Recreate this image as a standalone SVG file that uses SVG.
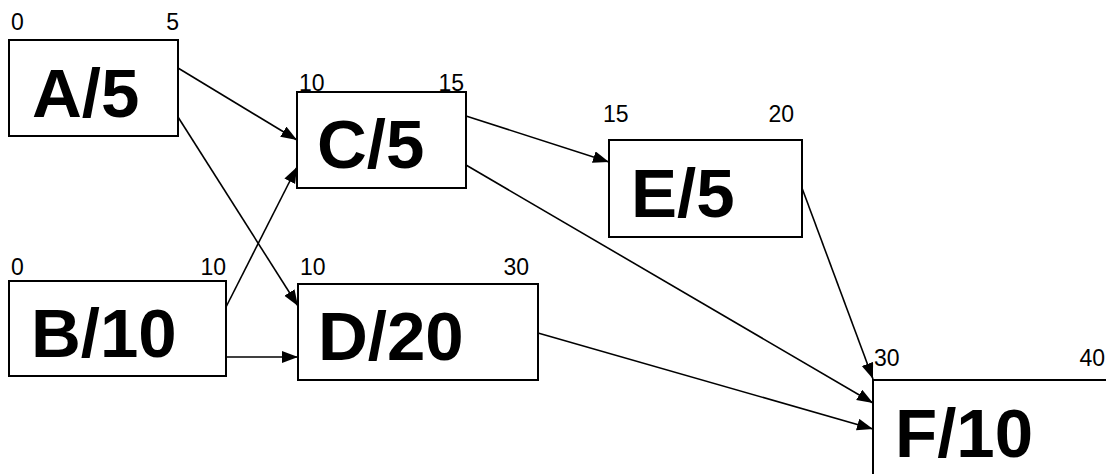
<svg xmlns="http://www.w3.org/2000/svg" width="1106" height="474" viewBox="0 0 1106 474">
<style>
.box{fill:#fff;stroke:#000;stroke-width:2}
.big{font-family:"Liberation Sans",Arial,sans-serif;font-weight:bold;font-size:69px;fill:#000}
.sm{font-family:"Liberation Sans",Arial,sans-serif;font-size:23px;fill:#000}
.e{text-anchor:end}
.ln{stroke:#000;stroke-width:1.6;fill:none;marker-end:url(#ah)}
</style>
<defs>
<marker id="ah" markerUnits="userSpaceOnUse" markerWidth="18" markerHeight="14" refX="16" refY="6" orient="auto">
<path d="M0,0 L16,6 L0,12 z" fill="#000"/>
</marker>
</defs>
<rect width="1106" height="474" fill="#fff"/>
<g id="nodeA">
<rect class="box" x="9" y="40" width="169" height="96"/>
<text class="sm" x="11" y="30">0</text>
<text class="sm e" x="179" y="30">5</text>
<text class="big" x="32" y="117">A/5</text>
</g>
<g id="nodeB">
<rect class="box" x="9" y="281" width="217" height="95"/>
<text class="sm" x="11" y="275">0</text>
<text class="sm e" x="226" y="275">10</text>
<text class="big" x="31" y="357">B/10</text>
</g>
<g id="nodeC">
<rect class="box" x="297" y="92" width="169" height="96"/>
<text class="sm" x="299" y="91">10</text>
<text class="sm e" x="464" y="91">15</text>
<text class="big" x="317" y="168">C/5</text>
</g>
<g id="nodeD">
<rect class="box" x="298" y="284" width="240" height="96"/>
<text class="sm" x="300" y="275">10</text>
<text class="sm e" x="529" y="275">30</text>
<text class="big" x="318" y="360">D/20</text>
</g>
<g id="nodeE">
<rect class="box" x="609" y="140" width="193" height="97"/>
<text class="sm" x="603" y="122">15</text>
<text class="sm e" x="794" y="122">20</text>
<text class="big" x="631" y="217">E/5</text>
</g>
<g id="nodeF">
<rect class="box" x="873" y="380" width="260" height="120"/>
<text class="sm" x="874" y="366">30</text>
<text class="sm e" x="1105" y="366">40</text>
<text class="big" x="895" y="457">F/10</text>
</g>
<g id="connectors">
<line class="ln" x1="178" y1="68" x2="297" y2="140"/>
<line class="ln" x1="178" y1="117" x2="298" y2="306"/>
<line class="ln" x1="226" y1="307" x2="297" y2="167"/>
<line class="ln" x1="226" y1="357" x2="298" y2="357"/>
<line class="ln" x1="466" y1="116" x2="609" y2="162"/>
<line class="ln" x1="466" y1="165" x2="873" y2="403"/>
<line class="ln" x1="538" y1="333" x2="873" y2="429"/>
<line class="ln" x1="802" y1="188" x2="873" y2="379"/>
</g>
</svg>
